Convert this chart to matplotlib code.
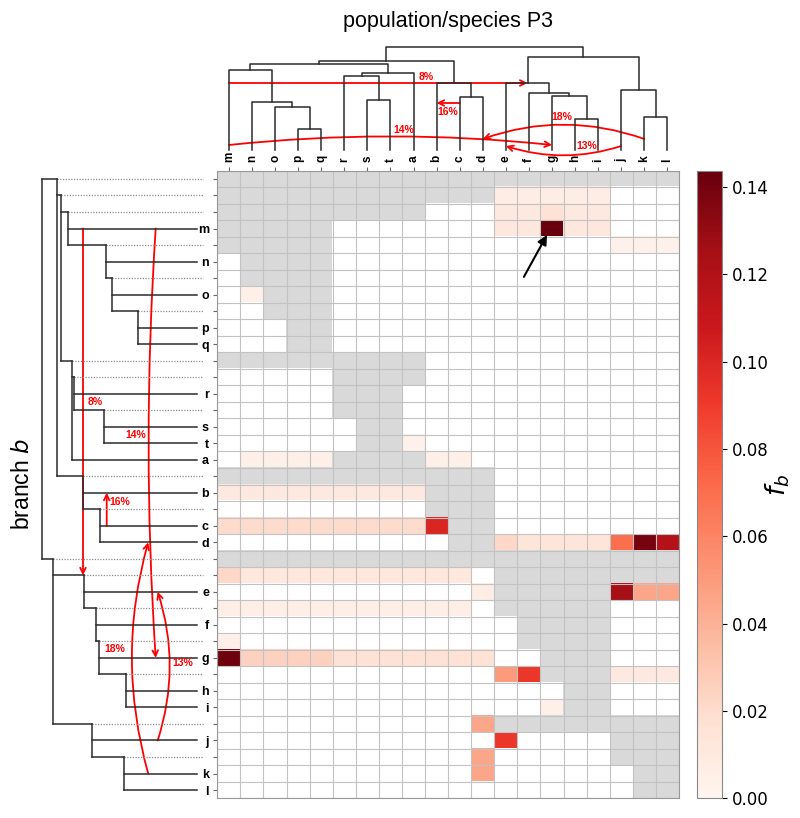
import numpy as np
import matplotlib
matplotlib.use('Agg')
import matplotlib.pyplot as plt
from matplotlib.patches import FancyArrowPatch

# tree shared by the column dendrogram (P3) and the row dendrogram (branch b)
tree = [[[['m', ['n', ['o', ['p', 'q']]]], [['r', ['s', 't']], 'a']], ['b', ['c', 'd']]],
        [['e', ['f', ['g', ['h', 'i']]]], ['j', ['k', 'l']]]]

# internal node heights
node_keys = ['mnopqrstabcdefghijkl', 'mnopqrstabcd', 'mnopqrsta', 'mnopq', 'nopq', 'opq', 'pq',
             'rsta', 'rst', 'st', 'bcd', 'cd', 'efghijkl', 'efghi', 'fghi', 'ghi', 'hi', 'jkl', 'kl']
top_heights = [102.7, 89.3, 85.7, 79.7, 48.3, 42.7, 20.7, 77.3, 74.3, 49.7, 66.7, 53.3,
               93.0, 66.7, 56.7, 54.0, 31.3, 60.3, 33.0]
left_heights = [155.0, 139.4, 135.7, 128.4, 90.7, 85.0, 58.4, 125.0, 122.7, 92.4, 113.4, 96.7,
                143.4, 112.4, 101.0, 98.0, 71.0, 105.0, 73.0]

# f_b values (branch row, P3 columns, value); everything else is 0
fb_branch = ['mnopqrsta', 'mnopq', 'mnopq', 'm', 'm', 'nopq', 'o', 't', 'a', 'a',
             'b', 'c', 'c', 'd', 'd', 'd', 'd', 'd',
             'efghi', 'efghi', 'e', 'e', 'e', 'fghi', 'ghi', 'g', 'g', 'g',
             'hi', 'hi', 'hi', 'i', 'jkl', 'j', 'kl', 'k']
fb_cols = ['efghi', 'efhi', 'g', 'efhi', 'g', 'jkl', 'n', 'a', 'nopq', 'bc',
           'mnopqrsta', 'mnopqrsta', 'b', 'e', 'fghi', 'j', 'k', 'l',
           'm', 'nopqrstabc', 'd', 'j', 'kl', 'mnopqrstabc', 'm', 'm', 'nopq', 'rstabcd',
           'e', 'f', 'jkl', 'g', 'd', 'e', 'd', 'd']
fb_value = [0.007, 0.010, 0.016, 0.011, 0.1437, 0.003, 0.004, 0.003, 0.005, 0.005,
            0.010, 0.020, 0.100, 0.022, 0.013, 0.070, 0.139, 0.118,
            0.022, 0.012, 0.007, 0.125, 0.045, 0.006, 0.004, 0.141, 0.025, 0.016,
            0.050, 0.092, 0.010, 0.004, 0.045, 0.092, 0.045, 0.045]

# gene flow arrows
flow_label = ['8%', '16%', '14%', '18%', '13%']
flow_src = ['m', 'c', 'm', 'k', 'j']
flow_dst = ['efghi', 'b', 'g', 'd', 'e']
flow_top_h = [67, 47, 5, 11, 4]
flow_left_h = [113.7, 90, 41, 48.5, 39]
top_rad = [0, 0, -0.053, 0.176, -0.16]
left_rad = [0, 0, 0.033, -0.14, 0.16]
top_lab_t = [0.66, 0.5, 0.54, 0.51, 0.3]
top_lab_off = [(0, 6), (0, -9), (0, 15), (0, 22), (0, 0)]
left_lab_t = [0.5, 0.72, 0.48, 0.54, 0.52]
left_lab_off = [(12, 0), (13, 0), (-20, 0), (-33, 0), (25, 0)]

top_h = dict(zip(node_keys, top_heights))
left_h = dict(zip(node_keys, left_heights))


def leaf_list(n):
    return [n] if isinstance(n, str) else leaf_list(n[0]) + leaf_list(n[1])


def name(n):
    return ''.join(leaf_list(n))


columns = leaf_list(tree)
branches, parents = [], []


def preorder(n, parent):
    branches.append(n)
    parents.append(parent)
    if not isinstance(n, str):
        preorder(n[0], n)
        preorder(n[1], n)


preorder(tree[0], tree)
preorder(tree[1], tree)
row_names = [name(b) for b in branches]
nrow, ncol = len(branches), len(columns)

fb = np.zeros((nrow, ncol))
for br, cols, v in zip(fb_branch, fb_cols, fb_value):
    for c in cols:
        fb[row_names.index(br), columns.index(c)] = v
mask = np.array([[c in leaf_list(p) for c in columns] for p in parents])
data = np.ma.masked_array(fb, mask)

W, H = 800, 818
fig = plt.figure(figsize=(W / 100, H / 100), dpi=100)


def px_axes(x0, y0, x1, y1):
    return fig.add_axes([x0 / W, 1 - y1 / H, (x1 - x0) / W, (y1 - y0) / H])


hm_l, hm_r, hm_t, hm_b = 217.3, 679.0, 170.7, 798.3
ax = px_axes(hm_l, hm_t, hm_r, hm_b)
ax_top = px_axes(hm_l, 38, hm_r, 158)
ax_left = px_axes(0, hm_t, 218, hm_b)
cax = px_axes(697, hm_t, 722, hm_b)

# heatmap (zero cells drawn white, masked cells grey)
cmap = plt.get_cmap('Reds').copy()
cmap.set_bad('#d9d9d9')
cmap.set_under('white')
vmax = fb.max()
im = ax.imshow(data, cmap=cmap, vmin=1e-6, vmax=vmax, aspect='auto',
               interpolation='nearest', extent=(0, ncol, nrow, 0))
ax.set_xticks(np.arange(ncol + 1), minor=True)
ax.set_yticks(np.arange(nrow + 1), minor=True)
ax.grid(which='minor', color='#c2c2c2', lw=0.8)
ax.tick_params(which='minor', length=0)
ax.xaxis.tick_top()
ax.set_xticks(np.arange(ncol) + 0.5)
ax.set_xticklabels(columns, rotation=90, fontsize=8.5, fontweight='bold', family='Liberation Sans')
ax.set_yticks(np.arange(nrow) + 0.5)
ax.set_yticklabels([b if isinstance(b, str) else '' for b in branches],
                   fontsize=9, fontweight='bold', family='Liberation Sans')
ax.tick_params(which='major', length=3, color='#666666', pad=3)
for s in ax.spines.values():
    s.set_color('#999999')

gi, mi = columns.index('g'), row_names.index('m')
ax.annotate('', xy=(gi + 0.28, mi + 0.89), xytext=(gi - 0.72, mi + 3.43),
            arrowprops=dict(arrowstyle='-|>', color='black', lw=1.5, mutation_scale=14,
                            shrinkA=0, shrinkB=0))

# top dendrogram
xpos = {}


def top_layout(n):
    if isinstance(n, str):
        xpos[n] = columns.index(n) + 0.5
        return xpos[n], 0
    x0, h0 = top_layout(n[0])
    x1, h1 = top_layout(n[1])
    h = top_h[name(n)]
    ax_top.plot([x0, x0, x1, x1], [h0, h, h, h1], color='#2b2b2b', lw=1.1)
    xpos[name(n)] = (x0 + x1) / 2
    return xpos[name(n)], h


top_layout(tree)
ax_top.set_xlim(0, ncol)
ax_top.set_ylim(-8, 112)
ax_top.axis('off')
ax_top.set_title('population/species P3', fontsize=15.5, family='Liberation Sans', pad=8)

# left dendrogram
for r, (b, p) in enumerate(zip(branches, parents)):
    y = r + 0.5
    hp = left_h[name(p)]
    if isinstance(b, str):
        ax_left.plot([hp, 0], [y, y], color='#2b2b2b', lw=1.1)
    else:
        hn = left_h[name(b)]
        ax_left.plot([hp, hn], [y, y], color='#2b2b2b', lw=1.1)
        ax_left.plot([hn, -6.3], [y, y], color='#8c8c8c', lw=0.9, ls=(0, (1, 1.2)))
        ax_left.plot([hn, hn], [y, row_names.index(name(b[1])) + 0.5], color='#2b2b2b', lw=1.1)
hr = left_h[name(tree)]
ax_left.plot([hr, hr], [row_names.index(name(tree[0])) + 0.5, row_names.index(name(tree[1])) + 0.5],
             color='#2b2b2b', lw=1.1)
ax_left.set_xlim(196.7, -21.3)
ax_left.set_ylim(nrow, 0)
ax_left.axis('off')
ax_left.text(0.105, 0.5, 'branch $\\it{b}$', rotation=90, ha='center', va='center',
             fontsize=16.5, family='Liberation Sans', transform=ax_left.transAxes)

# gene flow arrows on both trees
for i, lab in enumerate(flow_label):
    x0, x1 = xpos[flow_src[i]], xpos[flow_dst[i]]
    h = flow_top_h[i]
    ax_top.add_patch(FancyArrowPatch((x0, h), (x1, h), arrowstyle='->', mutation_scale=10,
                                     connectionstyle=f'arc3,rad={top_rad[i]}', color='red',
                                     lw=1.3, shrinkA=0, shrinkB=0, clip_on=False))
    t = top_lab_t[i]
    ax_top.annotate(lab, (x0 + t * (x1 - x0), h), xytext=top_lab_off[i], textcoords='offset pixels',
                    ha='center', va='center', color='red', fontsize=7.5, fontweight='bold',
                    family='Liberation Sans')

    y0 = row_names.index(flow_src[i]) + 0.5
    y1 = row_names.index(flow_dst[i]) + 0.5
    h = flow_left_h[i]
    ax_left.add_patch(FancyArrowPatch((h, y0), (h, y1), arrowstyle='->', mutation_scale=10,
                                      connectionstyle=f'arc3,rad={left_rad[i]}', color='red',
                                      lw=1.3, shrinkA=0, shrinkB=0, clip_on=False))
    t = left_lab_t[i]
    ax_left.annotate(lab, (h, y0 + t * (y1 - y0)), xytext=left_lab_off[i], textcoords='offset pixels',
                     ha='center', va='center', color='red', fontsize=7.5, fontweight='bold',
                     family='Liberation Sans')

# colorbar
cb = fig.colorbar(im, cax=cax)
ticks = np.arange(0, 0.141, 0.02)
cb.set_ticks(ticks)
cb.ax.set_yticklabels([f'{v:.2f}' for v in ticks])
cb.ax.set_ylim(0, vmax)
cb.ax.tick_params(labelsize=12)
cb.outline.set_edgecolor('#888888')
cb.set_label('$f_b$', fontsize=19, labelpad=-4)

fig.savefig('out.png', dpi=100)
